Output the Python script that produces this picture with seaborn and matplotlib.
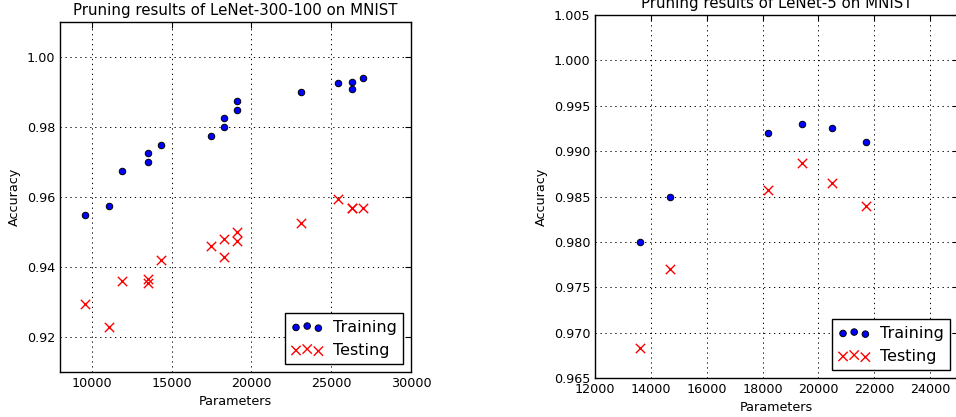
import numpy as np
import pandas as pd
import matplotlib
matplotlib.use("Agg")
import matplotlib.pyplot as plt
import seaborn as sns

# LeNet-300-100 (left panel)
lenet300_params = [9550, 11100, 11900, 13500, 13500, 14300, 17450, 18250, 18250,
                   19100, 19100, 23100, 25400, 26300, 26300, 27000]
lenet300_train = [0.955, 0.9575, 0.9675, 0.9725, 0.970, 0.975, 0.9775, 0.9825, 0.980,
                  0.9875, 0.985, 0.990, 0.9925, 0.993, 0.991, 0.994]
lenet300_test = [0.9295, 0.923, 0.936, 0.9365, 0.9355, 0.942, 0.946, 0.948, 0.943,
                 0.950, 0.9475, 0.9525, 0.9595, 0.957, 0.9568, 0.957]

# LeNet-5 (right panel)
lenet5_params = [13600, 14700, 18200, 19400, 20500, 21700]
lenet5_train = [0.980, 0.985, 0.992, 0.993, 0.9925, 0.991]
lenet5_test = [0.9683, 0.977, 0.9857, 0.9887, 0.9865, 0.984]

lenet300_xticks = [10000, 15000, 20000, 25000, 30000]
lenet300_yticks = [0.92, 0.94, 0.96, 0.98, 1.00]
lenet5_xticks = [12000, 14000, 16000, 18000, 20000, 22000, 24000]
lenet5_yticks = [0.965, 0.970, 0.975, 0.980, 0.985, 0.990, 0.995, 1.000, 1.005]

sns.set_style("white")
plt.rcParams.update({
    "font.family": ["DejaVu Sans"],
    "text.color": "black",
    "axes.labelcolor": "black",
    "xtick.color": "black",
    "ytick.color": "black",
    "xtick.direction": "in",
    "ytick.direction": "in",
    "xtick.top": True,
    "ytick.right": True,
    "xtick.major.size": 4,
    "ytick.major.size": 4,
    "axes.edgecolor": "black",
    "axes.linewidth": 1.0,
})


def draw_panel(ax, params, train, test, title, xlim, ylim, xticks, yticks, yfmt):
    df = pd.DataFrame({"Parameters": params, "train": train, "test": test})
    sns.scatterplot(data=df, x="Parameters", y="train", ax=ax, marker="o",
                    color="blue", edgecolor="black", linewidth=0.7, s=22,
                    label="Training", legend=False, zorder=3)
    sns.scatterplot(data=df, x="Parameters", y="test", ax=ax, marker="x",
                    color="red", linewidth=1.0, s=45,
                    label="Testing", legend=False, zorder=3)
    ax.set_xlim(*xlim)
    ax.set_ylim(*ylim)
    ax.set_xticks(xticks)
    ax.set_yticks(yticks)
    ax.set_yticklabels([yfmt.format(v) for v in yticks])
    ax.tick_params(labelsize=9.2, width=0.8)
    ax.grid(True, linestyle=(0, (1.3, 3.8)), color="black", linewidth=0.7)
    ax.set_title(title, fontsize=10.8, pad=5)
    ax.set_xlabel("Parameters", fontsize=9.2)
    ax.set_ylabel("Accuracy", fontsize=9.2)
    leg = ax.legend(loc="lower right", scatterpoints=3,
                    scatteryoffsets=[0.375, 0.5, 0.3125],
                    fontsize=11.5, fancybox=False, framealpha=1,
                    borderaxespad=0.5, handletextpad=0.6)
    leg.get_frame().set_edgecolor("black")
    leg.get_frame().set_linewidth(1.0)


fig = plt.figure(figsize=(9.56, 4.17), dpi=100)
W, H = 956, 417
ax1 = fig.add_axes([60 / W, (H - 372) / H, 351 / W, 350 / H])
ax2 = fig.add_axes([595 / W, (H - 378) / H, 363 / W, 363 / H])

draw_panel(ax1, lenet300_params, lenet300_train, lenet300_test,
           "Pruning results of LeNet-300-100 on MNIST",
           (8000, 30000), (0.91, 1.01), lenet300_xticks, lenet300_yticks, "{:.2f}")
draw_panel(ax2, lenet5_params, lenet5_train, lenet5_test,
           "Pruning results of LeNet-5 on MNIST",
           (12000, 25000), (0.965, 1.005), lenet5_xticks, lenet5_yticks, "{:.3f}")

fig.savefig("out.png", dpi=100, facecolor="white")
